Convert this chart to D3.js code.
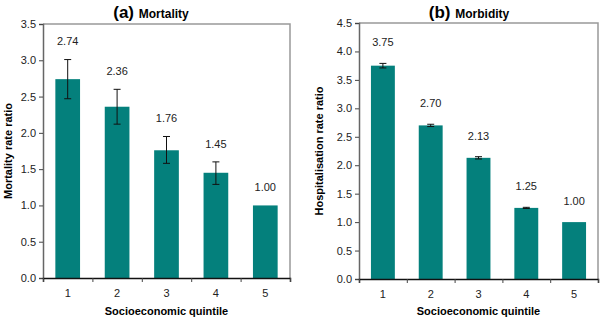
<!DOCTYPE html>
<html>
<head>
<meta charset="utf-8">
<script src="https://cdn.jsdelivr.net/npm/d3@7"></script>
<style>
  body { margin: 0; background: #fff; }
  svg { font-family: "Liberation Sans", Arial, sans-serif; display: block; }
</style>
</head>
<body>
<div id="vis"></div>
<script>
const quintiles = ["1", "2", "3", "4", "5"];

const mortality = [2.74, 2.36, 1.76, 1.45, 1.00];
const mortalityLow = [2.47, 2.12, 1.58, 1.29, null];
const mortalityHigh = [3.01, 2.60, 1.95, 1.60, null];
const mortalityTicks = [0, 0.5, 1.0, 1.5, 2.0, 2.5, 3.0, 3.5];

const morbidity = [3.75, 2.70, 2.13, 1.25, 1.00];
const morbidityLow = [3.71, 2.68, 2.11, 1.24, null];
const morbidityHigh = [3.79, 2.72, 2.15, 1.26, null];
const morbidityTicks = [0, 0.5, 1.0, 1.5, 2.0, 2.5, 3.0, 3.5, 4.0, 4.5];

const barColor = "#04807c";

const svg = d3.select("#vis")
  .append("svg")
  .attr("width", 600)
  .attr("height", 318);

function panel(opts) {
  const g = svg.append("g");
  const x = d3.scaleBand().domain(quintiles).range([opts.left, opts.right]).paddingInner(0.5).paddingOuter(0.25);
  const xb = d3.scaleLinear().domain([0, 5]).range([opts.left, opts.right]);
  const y = d3.scaleLinear().domain([0, opts.max]).range([opts.bottom, opts.top]);

  // frame (top and right)
  g.append("path")
    .attr("d", `M${opts.left},${opts.top}H${opts.right}V${opts.bottom}`)
    .attr("fill", "none")
    .attr("stroke", "#999")
    .attr("stroke-width", 1.5);

  const rows = quintiles.map((q, i) => ({
    q, v: opts.values[i], lo: opts.low[i], hi: opts.high[i]
  }));

  g.selectAll(".bar")
    .data(rows)
    .enter()
    .append("rect")
    .attr("x", d => x(d.q))
    .attr("width", x.bandwidth())
    .attr("y", d => y(d.v))
    .attr("height", d => y(0) - y(d.v))
    .attr("fill", barColor);

  // error bars
  const eb = rows.filter(d => d.lo != null);
  const cx = d => x(d.q) + x.bandwidth() / 2;
  g.selectAll(".err")
    .data(eb)
    .enter()
    .append("path")
    .attr("d", d => `M${cx(d)},${y(d.lo)}V${y(d.hi)}M${cx(d) - 3.5},${y(d.lo)}h7M${cx(d) - 3.5},${y(d.hi)}h7`)
    .attr("stroke", "#111")
    .attr("stroke-width", 1)
    .attr("fill", "none");

  // value labels
  g.selectAll(".lbl")
    .data(rows)
    .enter()
    .append("text")
    .attr("x", cx)
    .attr("y", d => y(d.hi != null ? d.hi : d.v) - opts.labelGap)
    .attr("dy", "0.35em")
    .attr("text-anchor", "middle")
    .attr("font-size", 11)
    .attr("fill", "#222")
    .text(d => d.v.toFixed(2));

  // y axis
  const ya = g.append("g")
    .attr("transform", `translate(${opts.left},0)`)
    .call(d3.axisLeft(y).tickValues(opts.ticks).tickFormat(d3.format(".1f")).tickSize(4).tickPadding(3));
  ya.select(".domain").attr("stroke", "#666").attr("stroke-width", 1.5);
  ya.selectAll(".tick line").attr("stroke", "#444");
  ya.selectAll("text").attr("font-size", 11).attr("fill", "#222").attr("font-family", "Liberation Sans, Arial, sans-serif");

  // x axis
  const xa = g.append("g")
    .attr("transform", `translate(0,${opts.bottom})`)
    .call(d3.axisBottom(xb).ticks(5).tickSize(4).tickFormat(""));
  xa.select(".domain").attr("stroke", "#111").attr("stroke-width", 1.5);
  xa.selectAll(".tick line").attr("stroke", "#444");

  g.selectAll(".xl")
    .data(quintiles)
    .enter()
    .append("text")
    .attr("x", d => x(d) + x.bandwidth() / 2)
    .attr("y", opts.bottom + 19)
    .attr("text-anchor", "middle")
    .attr("font-size", 11)
    .attr("fill", "#222")
    .text(d => d);

  g.append("text")
    .attr("x", (opts.left + opts.right) / 2)
    .attr("y", 315)
    .attr("text-anchor", "middle")
    .attr("font-size", 11)
    .attr("font-weight", "bold")
    .text("Socioeconomic quintile");

  g.append("text")
    .attr("transform", `translate(${opts.ylabX},${(opts.top + opts.bottom) / 2}) rotate(-90)`)
    .attr("text-anchor", "middle")
    .attr("font-size", 11)
    .attr("font-weight", "bold")
    .text(opts.ylab);

  const t = g.append("text")
    .attr("x", opts.titleX)
    .attr("y", 18)
    .attr("text-anchor", "middle")
    .attr("font-weight", "bold");
  t.append("tspan").attr("font-size", 17).text(opts.tag + " ");
  t.append("tspan").attr("font-size", 12).text(opts.title);
}

panel({
  left: 43, right: 290, top: 24, bottom: 278, max: 3.5,
  values: mortality, low: mortalityLow, high: mortalityHigh, ticks: mortalityTicks,
  labelGap: 18, ylab: "Mortality rate ratio", ylabX: 12,
  titleX: 151, tag: "(a)", title: "Mortality"
});

panel({
  left: 359, right: 598, top: 23, bottom: 279, max: 4.5,
  values: morbidity, low: morbidityLow, high: morbidityHigh, ticks: morbidityTicks,
  labelGap: 21, ylab: "Hospitalisation rate ratio", ylabX: 323,
  titleX: 469, tag: "(b)", title: "Morbidity"
});
</script>
</body>
</html>
